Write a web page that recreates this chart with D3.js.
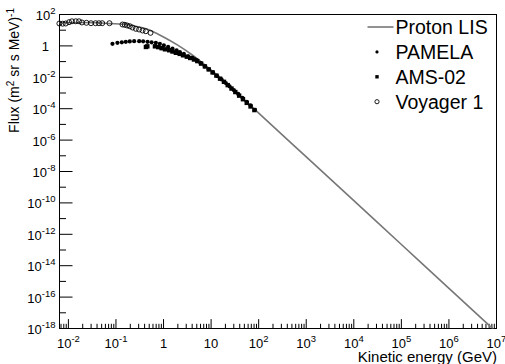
<!DOCTYPE html>
<html>
<head>
<meta charset="utf-8">
<script src="https://cdn.jsdelivr.net/npm/d3@7"></script>
<style>
  body { margin: 0; background: #fff; }
  svg { display: block; font-family: "Liberation Sans", Arial, Helvetica, sans-serif; }
</style>
</head>
<body>
<div id="chart"></div>
<script>
// Kinetic energy in GeV, flux in (m^2 sr s MeV)^-1
var lisEnergy = [0.0065, 0.0158, 0.0398, 0.0794, 0.141, 0.251, 0.501, 1, 2, 3.98, 10, 31.6, 100, 1e3, 1e4, 1e5, 1e6, 1e7];
var lisFlux = [26.9, 28.8, 27.5, 24.5, 22.4, 17.4, 10.0, 3.55, 1.07, 0.263, 0.0282, 1.32e-3, 5.25e-5, 8.51e-8, 1.38e-10, 2.24e-13, 3.63e-16, 5.89e-19];

var pamelaEnergy = [0.0865, 0.110, 0.136, 0.165, 0.200, 0.247, 0.315, 0.382, 0.472, 0.574, 0.706, 0.857,
                    1.04, 1.28, 1.58, 1.93, 2.26, 2.74, 3.38, 4.18, 5.08, 6.17, 7.59, 9.12, 11.2, 13.8,
                    17.0, 20.9, 25.1, 30.9, 38.0, 46.8, 57.5, 69.2, 85.1];
var pamelaFlux = [1.26, 1.45, 1.58, 1.70, 1.78, 1.86, 1.86, 1.82, 1.70, 1.58, 1.45, 1.26,
                  1.00, 0.813, 0.631, 0.490, 0.372, 0.288, 0.204, 0.162, 0.115, 0.0741, 0.0468, 0.0302, 0.0186, 0.0112,
                  6.76e-3, 3.98e-3, 2.45e-3, 1.41e-3, 8.13e-4, 4.57e-4, 2.57e-4, 1.51e-4, 7.94e-5];

var amsEnergy = [0.437, 0.468, 0.676, 0.794, 0.933, 1.10, 1.35, 1.58, 1.86, 2.24, 2.63, 3.16, 3.72, 4.47, 5.25,
                 6.31, 7.59, 9.12, 11.0, 13.2, 15.8, 19.1, 22.9, 27.5, 33.1, 39.8, 47.9, 57.5, 69.2, 83.2];
var amsFlux = [0.794, 0.871, 0.871, 0.776, 0.661, 0.562, 0.490, 0.407, 0.339, 0.288, 0.234, 0.191, 0.158, 0.126, 0.100,
               0.0692, 0.0457, 0.0295, 0.0191, 0.0120, 7.59e-3, 4.79e-3, 2.95e-3, 1.78e-3, 1.07e-3, 6.31e-4, 3.72e-4, 2.19e-4, 1.29e-4, 7.59e-5];

var voyagerEnergy = [0.00662, 0.00778, 0.00900, 0.01057, 0.01216, 0.01462, 0.01714, 0.01973, 0.02455, 0.03055,
                     0.0381, 0.0450, 0.0527, 0.0748, 0.1406, 0.157, 0.176, 0.200, 0.228, 0.268, 0.314, 0.371, 0.435, 0.546];
var voyagerFlux = [24.8, 24.1, 24.8, 30.1, 34.3, 34.3, 34.3, 28.8, 27.5, 25.9,
                   25.9, 25.9, 25.9, 25.9, 21.4, 20.5, 18.5, 16.7, 13.8, 11.4, 10.3, 8.89, 8.02, 6.31];

var xTickValues = [1e-2, 1e-1, 1, 10, 1e2, 1e3, 1e4, 1e5, 1e6, 1e7];
var xTickLabels = [["10", "-2"], ["10", "-1"], ["1", ""], ["10", ""], ["10", "2"], ["10", "3"],
                   ["10", "4"], ["10", "5"], ["10", "6"], ["10", "7"]];
var yTickValues = [1e2, 1, 1e-2, 1e-4, 1e-6, 1e-8, 1e-10, 1e-12, 1e-14, 1e-16, 1e-18];
var yTickLabels = [["10", "2"], ["1", ""], ["10", "-2"], ["10", "-4"], ["10", "-6"], ["10", "-8"],
                   ["10", "-10"], ["10", "-12"], ["10", "-14"], ["10", "-16"], ["10", "-18"]];

var legendLabels = ["Proton LIS", "PAMELA", "AMS-02", "Voyager 1"];

function zip(xs, ys) {
  return xs.map(function(x, i) { return [x, ys[i]]; });
}

var width = 505, height = 364;
var frame = { left: 59, right: 496, top: 14, bottom: 328 };

var svg = d3.select("#chart")
            .append("svg")
            .attr("width", width)
            .attr("height", height);

svg.append("rect").attr("width", width).attr("height", height).attr("fill", "#fff");

var xScale = d3.scaleLog().domain([0.0065, 1e7]).range([frame.left, frame.right]),
    yScale = d3.scaleLog().domain([1e-18, 1e2]).range([frame.bottom, frame.top]);

// minor ticks: 2..9 inside each decade on x, odd decades on y
var xMinor = [];
for (var d = -3; d < 7; d++) {
  for (var k = 2; k < 10; k++) {
    var v = k * Math.pow(10, d);
    if (v > xScale.domain()[0] && v < 1e7) xMinor.push(v);
  }
}
var yMinor = [];
for (var e = -17; e <= 1; e += 2) yMinor.push(Math.pow(10, e));

svg.append("defs").append("clipPath").attr("id", "frame-clip")
   .append("rect")
   .attr("x", frame.left + 0.5).attr("y", frame.top + 0.5)
   .attr("width", frame.right - frame.left).attr("height", frame.bottom - frame.top);

function addAxis(axis, tx, ty) {
  var g = svg.append("g").attr("transform", "translate(" + tx + "," + ty + ")").call(axis);
  g.select(".domain").remove();
  g.selectAll(".tick line").attr("stroke", "#000");
  return g;
}

addAxis(d3.axisBottom(xScale).tickValues(xTickValues).tickSizeInner(-9.4).tickSizeOuter(0).tickFormat(""), 0, frame.bottom + 0.5);
addAxis(d3.axisBottom(xScale).tickValues(xMinor).tickSizeInner(-4.7).tickSizeOuter(0).tickFormat(""), 0, frame.bottom + 0.5);
addAxis(d3.axisLeft(yScale).tickValues(yTickValues).tickSizeInner(-13).tickSizeOuter(0).tickFormat(""), frame.left + 0.5, 0);
addAxis(d3.axisLeft(yScale).tickValues(yMinor).tickSizeInner(-6.5).tickSizeOuter(0).tickFormat(""), frame.left + 0.5, 0);

// frame box
svg.append("rect")
   .attr("x", frame.left + 0.5).attr("y", frame.top + 0.5)
   .attr("width", frame.right - frame.left).attr("height", frame.bottom - frame.top)
   .attr("fill", "none").attr("stroke", "#000").attr("stroke-width", 1);

// tick labels with superscripts
function supLabel(sel, parts, supSize) {
  sel.append("tspan").text(parts[0]);
  if (parts[1] !== "") {
    sel.append("tspan").attr("dy", -6).attr("font-size", supSize).text(parts[1]);
  }
}

xTickValues.forEach(function(v, i) {
  var t = svg.append("text")
             .attr("x", xScale(v) + 0.5)
             .attr("y", 347.5)
             .attr("text-anchor", "middle")
             .attr("font-size", 13);
  supLabel(t, xTickLabels[i], 9.5);
});

yTickValues.forEach(function(v, i) {
  var t = svg.append("text")
             .attr("x", yTickLabels[i][1] === "" ? 49 : 55.5)
             .attr("y", yScale(v) + 6)
             .attr("text-anchor", "end")
             .attr("font-size", 13);
  supLabel(t, yTickLabels[i], 9.5);
});

// axis titles
svg.append("text")
   .attr("x", 497)
   .attr("y", 362)
   .attr("text-anchor", "end")
   .attr("font-size", 15)
   .text("Kinetic energy (GeV)");

var yTitle = svg.append("text")
   .attr("transform", "translate(18.5,8) rotate(-90)")
   .attr("text-anchor", "end")
   .attr("font-size", 14);
yTitle.append("tspan").text("Flux (m");
yTitle.append("tspan").attr("dy", -5).attr("font-size", 10).text("2");
yTitle.append("tspan").attr("dy", 5).text(" sr s MeV)");
yTitle.append("tspan").attr("dy", -5).attr("font-size", 10).text("-1");

// Proton LIS curve
var lisLine = d3.line()
                .curve(d3.curveMonotoneX)
                .x(function(d) { return xScale(d[0]); })
                .y(function(d) { return yScale(d[1]); });

svg.append("path")
   .attr("clip-path", "url(#frame-clip)")
   .attr("d", lisLine(zip(lisEnergy, lisFlux)))
   .attr("fill", "none")
   .attr("stroke", "#777")
   .attr("stroke-width", 1.6);

// data points
svg.append("g").selectAll("circle")
   .data(zip(pamelaEnergy, pamelaFlux))
   .enter().append("circle")
   .attr("cx", function(d) { return xScale(d[0]); })
   .attr("cy", function(d) { return yScale(d[1]); })
   .attr("r", 2.1)
   .attr("fill", "#000");

svg.append("g").selectAll("rect")
   .data(zip(amsEnergy, amsFlux))
   .enter().append("rect")
   .attr("x", function(d) { return xScale(d[0]) - 2.2; })
   .attr("y", function(d) { return yScale(d[1]) - 2.2; })
   .attr("width", 4.4)
   .attr("height", 4.4)
   .attr("fill", "#000");

svg.append("g").selectAll("circle")
   .data(zip(voyagerEnergy, voyagerFlux))
   .enter().append("circle")
   .attr("cx", function(d) { return xScale(d[0]); })
   .attr("cy", function(d) { return yScale(d[1]); })
   .attr("r", 2.5)
   .attr("fill", "none")
   .attr("stroke", "#000")
   .attr("stroke-width", 0.9);

// legend
var legend = svg.append("g").attr("transform", "translate(377,27)");
var rowStep = 24.9;

legend.append("line")
      .attr("x1", -9.5).attr("x2", 16.5).attr("y1", 0).attr("y2", 0)
      .attr("stroke", "#777").attr("stroke-width", 1.6);
legend.append("circle").attr("cx", 0).attr("cy", rowStep).attr("r", 1.6).attr("fill", "#000");
legend.append("rect").attr("x", -1.7).attr("y", 2 * rowStep - 1.7).attr("width", 3.4).attr("height", 3.4).attr("fill", "#000");
legend.append("circle").attr("cx", 0).attr("cy", 3 * rowStep).attr("r", 2.1)
      .attr("fill", "none").attr("stroke", "#000").attr("stroke-width", 0.9);

legendLabels.forEach(function(label, i) {
  legend.append("text")
        .attr("x", 18.5)
        .attr("y", i * rowStep + 7)
        .attr("font-size", 19.5)
        .text(label);
});
</script>
</body>
</html>
